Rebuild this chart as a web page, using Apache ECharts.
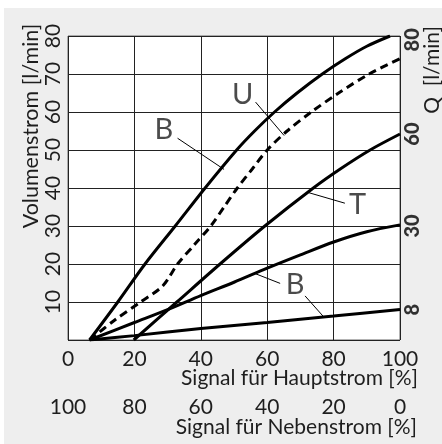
<!DOCTYPE html>
<html><head><meta charset="utf-8">
<script src="https://cdn.jsdelivr.net/npm/echarts@6/dist/echarts.min.js"></script>
<style>
html,body{margin:0;padding:0;background:#fff;}
#bg{position:absolute;left:4px;top:8px;width:438px;height:436px;background:#eeeeee;}
#c{position:absolute;left:0;top:0;width:442px;height:444px;}
</style></head>
<body><div id="bg"></div><div id="c"></div>
<script>
// Main-flow signal ticks (%), flow ticks (l/min)
const xTicks = [0, 20, 40, 60, 80, 100];
const yTicks = [0, 10, 20, 30, 40, 50, 60, 70, 80];
// Right-axis marks: position (l/min on left scale) and displayed label
const qMarkValues = [8, 30, 54.2, 79];
const qMarkLabels = ['8', '30', '60', '80'];

// Curves: [signal %, flow l/min]
const curveB80 = [[6.5,0],[15,10],[23.2,20],[32.3,30],[41.3,40],[50.8,50],[56.2,55],[62.2,60],[69,65],[76.6,70],[83.5,74],[90,77.3],[97,80]];
const curveU = [[6.5,0],[14,5.2],[21.5,9.8],[28.5,14.2],[33,20],[38,25],[43,30],[47,35],[51,40],[55.5,45],[60,50],[66,55],[73.3,60],[81.5,65],[90.7,70],[100,74]];
const curveT = [[19.8,0],[32.8,10],[45.8,20],[59.3,30],[73.9,40],[82,45],[91,50],[100,54.2]];
const curveB30 = [[6.5,0],[20,4.6],[30,8.0],[40,11.7],[50,15.2],[60,18.9],[70,22.4],[80,25.8],[90,28.5],[100,30.3]];
const curveB8 = [[6.5,0],[20,1.15],[40,3.0],[60,4.6],[80,6.3],[100,8.05]];

// Curve annotations: label text, label position, leader line start/end (data coords)
const annText = ['U', 'B', 'T', 'B', ''];
const annLabelPos = [[52.6,64.5],[28.9,55.3],[87.2,35.7],[68.4,14.6],null];
const annLeaderFrom = [[56.5,62.6],[33.0,53.1],[83.4,36.0],[63.9,14.9],[71.4,11.6]];
const annLeaderTo = [[65.1,53.8],[47.0,44.9],[72.4,38.8],[56.3,17.5],[77.0,6.1]];

const FONT = 'Lato';
const TXT = '#1e1e1e';

const chart = echarts.init(document.getElementById('c'), null, {renderer:'canvas'});

const series = [];
function curve(data, dashed) {
  series.push({
    type:'line', data:data, xAxisIndex:0, yAxisIndex:0, symbol:'none', smooth:0.3,
    lineStyle:{color:'#000', width:3, type: dashed ? [8,5] : 'solid'}, z:5, silent:true
  });
}
curve(curveB80,false); curve(curveU,true); curve(curveT,false); curve(curveB30,false); curve(curveB8,false);

for (let i=0;i<annLeaderFrom.length;i++){
  series.push({type:'line', data:[annLeaderFrom[i], annLeaderTo[i]], symbol:'none',
    lineStyle:{color:'#000', width:1}, z:4, silent:true});
}
series.push({
  type:'scatter', symbolSize:0, z:6, silent:true,
  data: annLabelPos.map((p,i)=> p ? {value:p, name:annText[i]} : null).filter(d=>d),
  label:{show:true, position:'inside', formatter:(p)=>p.name, fontFamily:FONT, fontSize:29, color:TXT}
});
// Right-hand Q marks, placed through the axis scale at the right edge
series.push({
  type:'scatter', symbolSize:0, z:6, silent:true, clip:false,
  data: qMarkValues.map((v,i)=>({value:[xTicks[xTicks.length-1], v], name:qMarkLabels[i]})),
  label:{show:true, position:'inside', offset:[0,13], rotate:90, formatter:(p)=>p.name,
    fontFamily:FONT, fontSize:20, fontWeight:900, color:'#000'}
});

chart.setOption({
  backgroundColor:'transparent',
  animation:false,
  grid:{left:68, right:42, top:36, bottom:104, show:true, backgroundColor:'#fff', borderColor:'#666', borderWidth:1},
  xAxis:[
    {type:'value', min:xTicks[0], max:xTicks[xTicks.length-1], interval:20, position:'bottom',
     axisLine:{show:false}, axisTick:{show:false},
     splitLine:{show:true, lineStyle:{color:'#222', width:1}},
     axisLabel:{margin:9, fontFamily:FONT, fontSize:21, color:TXT, formatter:(v)=>String(v)}},
    {type:'value', min:xTicks[0], max:xTicks[xTicks.length-1], interval:20, position:'bottom', offset:48, inverse:true,
     axisLine:{show:false}, axisTick:{show:false}, splitLine:{show:false},
     axisLabel:{margin:9, fontFamily:FONT, fontSize:21, color:TXT, formatter:(v)=>String(v)}}
  ],
  yAxis:[
    {type:'value', min:yTicks[0], max:yTicks[yTicks.length-1], interval:10,
     axisLine:{show:false}, axisTick:{show:false},
     splitLine:{show:true, lineStyle:{color:'#222', width:1}},
     axisLabel:{rotate:90, margin:4, fontFamily:FONT, fontSize:21, color:TXT, formatter:(v)=> v===0 ? '' : String(v)}}
  ],
  graphic:[
    {type:'text', x:31, y:126, rotation:Math.PI/2, style:{text:'Volumenstrom [l/min]', font:'21.5px '+FONT, fill:TXT, textAlign:'center', textVerticalAlign:'middle'}},
    {type:'text', x:432, y:70, rotation:Math.PI/2, style:{text:'Q  [l/min]', font:'21px '+FONT, fill:TXT, textAlign:'center', textVerticalAlign:'middle'}},
    {type:'text', x:418, y:378, style:{text:'Signal für Hauptstrom [%]', font:'21px '+FONT, fill:TXT, textAlign:'right', textVerticalAlign:'middle'}},
    {type:'text', x:417, y:427, style:{text:'Signal für Nebenstrom [%]', font:'21px '+FONT, fill:TXT, textAlign:'right', textVerticalAlign:'middle'}}
  ],
  series:series
});
</script></body></html>
